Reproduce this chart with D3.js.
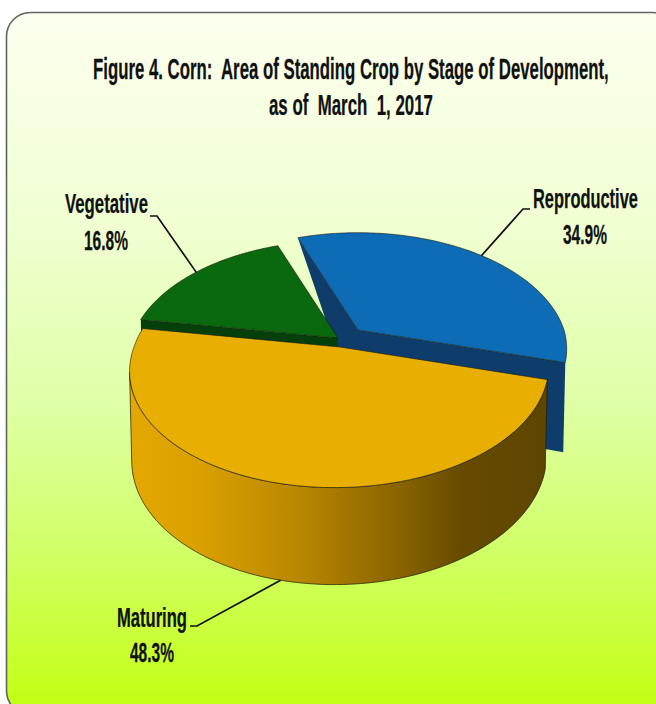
<!DOCTYPE html>
<html><head><meta charset="utf-8">
<script src="https://cdn.jsdelivr.net/npm/d3@7"></script>
<style>html,body{margin:0;padding:0;background:#fff;overflow:hidden}svg{display:block}
text{font-family:"Liberation Sans Narrow","Liberation Sans",Arial,sans-serif;font-weight:700;fill:#111;white-space:pre;stroke:#111;stroke-width:.25}</style>
</head><body><div id="c"></div>
<script>
const categories = ["Reproductive", "Maturing", "Vegetative"];
const values = [34.9, 48.3, 16.8];
const titleLines = ["Figure 4. Corn:  Area of Standing Crop by Stage of Development,", "as of  March  1, 2017"];

const W = 656, H = 704, DEG = Math.PI / 180;
const top_col = ["#0d6cb5", "#e8ae02", "#0a690e"];
const wall_col = ["#0e3d6c", "url(#goldWall)", "#053f09"];
const explode = [[358, 330], [340, 347], [338, 338]];
const labelBox = [
  {name:[533,208,105,28], pct:[563,244,44,28], elbow:[[530,209],[523,209]], surf:"top"},
  {name:[117,627,70,28], pct:[130,662,44,28], elbow:[[190,626],[197,626]], surf:"bottom"},
  {name:[65,213,83,28], pct:[84,250,44,28], elbow:[[150,216],[157,216]], surf:"top"}
];

const svg = d3.select("#c").append("svg").attr("width", W).attr("height", H);
const defs = svg.append("defs");
const bg = defs.append("linearGradient").attr("id","bg").attr("x1",0).attr("x2",0).attr("y1",0).attr("y2",1);
[[0,"#fcffef"],[.3,"#f0ffd2"],[.55,"#e0ffa8"],[.75,"#d2ff6c"],[1,"#c2ff10"]].forEach(s=>bg.append("stop").attr("offset",s[0]).attr("stop-color",s[1]));
const gw = defs.append("linearGradient").attr("id","goldWall").attr("gradientUnits","userSpaceOnUse").attr("x1",131).attr("x2",549).attr("y1",0).attr("y2",0);
[[0,"#e3a800"],[.165,"#daa000"],[.285,"#c99400"],[.40,"#b98700"],[.52,"#a27500"],[.64,"#8a6400"],[.79,"#664b00"],[1,"#5e4500"]].forEach(s=>gw.append("stop").attr("offset",s[0]).attr("stop-color",s[1]));

svg.append("rect").attr("x",6.5).attr("y",12.5).attr("width",670).attr("height",702).attr("rx",24)
  .attr("fill","url(#bg)").attr("stroke","#5f6660").attr("stroke-width",1.6);

// perspective projection of the pie's disc, with a slight lean on the near half
const A = 206, B = 115, P = 0.182, LEAN = -0.04;
function project(theta, r, o, lower) {
  const c = Math.cos(theta), s = Math.sin(theta), w = 1 + P * r * c;
  const y = -B * r * c / w;
  const x = A * r * s / w + (y > 0 ? LEAN * y : 0);
  return lower ? [o[0] + x * 0.99, o[1] + y + 87 - 10 * r * c] : [o[0] + x, o[1] + y];
}
const pie = d3.pie().sort(null).startAngle(340 * DEG).endAngle(700 * DEG);
const arcs = pie(values);
const line = d3.line();
const sweep = (a, b) => d3.range(0, 121).map(i => a + (b - a) * i / 120);

const order = [0, 2, 1];
const g = svg.append("g");
order.forEach(i => {
  const d = arcs[i], o = explode[i];
  const pts = sweep(d.startAngle, d.endAngle);
  const S = "#1a1a0a";
  if (i === 0) {
    g.append("path").attr("d", line([project(d.startAngle,1,o), o, [o[0], o[1]+85]])+"Z").attr("fill", wall_col[i]);
    g.append("path").attr("d", line([o, project(d.endAngle,1,o), project(d.endAngle,1,o,true), [o[0], o[1]+85]])+"Z").attr("fill", wall_col[i]);
  }
  if (i === 2) {
    g.append("path").attr("d", line([project(d.startAngle,1,o), o, [o[0], o[1]+85], project(d.startAngle,1,o,true)])+"Z").attr("fill", wall_col[i]);
  }
  if (i === 1) {
    // only the part of the outer wall up to the ellipse's left extreme can be seen
    const left = d3.least(pts, t => project(t,1,o)[0]);
    const front = pts.filter(t => t <= left);
    const wall = front.map(t => project(t,1,o)).concat(front.slice().reverse().map(t => project(t,1,o,true)));
    g.append("path").attr("d", line(wall)+"Z").attr("fill", wall_col[i]).attr("stroke",S).attr("stroke-width",.7);
  }
  const face = [o].concat(pts.map(t => project(t,1,o)));
  g.append("path").attr("d", line(face)+"Z").attr("fill", top_col[i]).attr("stroke",S).attr("stroke-width",.6);
});

// squeeze a text horizontally to the measured width of the reference
function put(t, x, y, width, size) {
  const el = svg.append("text").attr("font-size", size).text(t);
  const k = width / el.node().getComputedTextLength();
  el.attr("transform", `translate(${x},${y}) scale(${k},1)`);
}

// leader lines run from each slice's middle angle to its label
arcs.forEach((d,i) => {
  const b = labelBox[i], mid = (d.startAngle + d.endAngle) / 2;
  const end = project(mid, 1, explode[i], b.surf === "bottom");
  svg.append("path").attr("d", line(b.elbow.concat([end]))).attr("fill","none").attr("stroke","#111").attr("stroke-width",1.7);
  put(categories[i], ...b.name);
  put(d3.format(".1f")(values[i]) + "%", ...b.pct);
});

[[titleLines[0],93,79,516],[titleLines[1],269,115,164]].forEach(t => put(t[0], t[1], t[2], t[3], 30));
</script></body></html>
